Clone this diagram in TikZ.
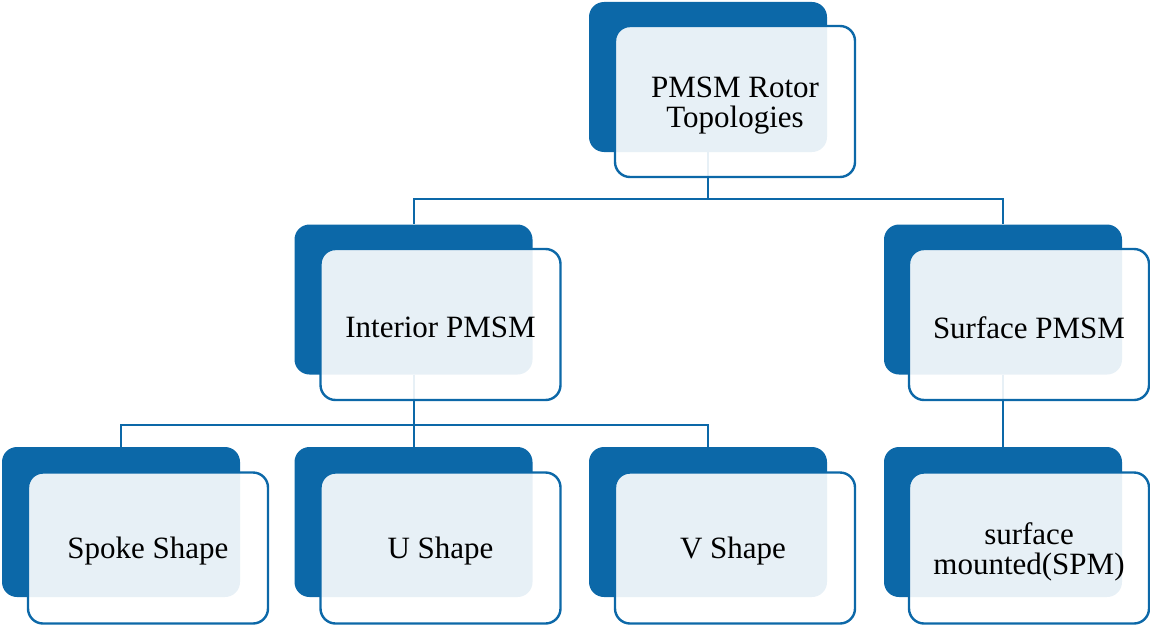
\documentclass[tikz,border=0pt]{standalone}
\usepackage{fontspec}
\setmainfont{Liberation Serif}
\definecolor{hblue}{RGB}{12,104,168}
\begin{document}
\begin{tikzpicture}[x=1pt,y=-1pt,
  back/.style={rectangle, rounded corners=15pt, fill=hblue, inner sep=0pt,
    minimum width=238pt, minimum height=150pt},
  front/.style={rectangle, rounded corners=15pt, draw=hblue, line width=2.4pt,
    fill=white, fill opacity=0.9, text opacity=1, inner sep=0pt,
    minimum width=240pt, minimum height=151pt},
  lbl/.style={inner sep=0pt, align=center, font=\fontsize{31}{30.5}\selectfont},
  link/.style={draw=hblue, line width=2pt}]
\useasboundingbox (0,0) rectangle (1150,626);

% back plates
\node[back] (rootB) at (708,77) {};
\node[back] (intB)  at (413.5,299.5) {};
\node[back] (surB)  at (1003,299.5) {};
\node[back] (spkB)  at (121,522) {};
\node[back] (uB)    at (413.5,522) {};
\node[back] (vB)    at (708,522) {};
\node[back] (spmB)  at (1003,522) {};

% hierarchy connectors
\draw[link] (rootB.south) -- ++(0,47) coordinate (j1) -| (intB.north);
\draw[link] (j1) -| (surB.north);
\draw[link] (intB.south) -- ++(0,50) coordinate (j2) -| (spkB.north);
\draw[link] (j2) -- (uB.north);
\draw[link] (j2) -| (vB.north);
\draw[link] (surB.south) -- (spmB.north);

% front cards
\node[front] (root) at (735,101.5) {};
\node[front] (int)  at (440.5,324.5) {};
\node[front] (sur)  at (1029,324.5) {};
\node[front] (spk)  at (148,548) {};
\node[front] (u)    at (440.5,548) {};
\node[front] (v)    at (735,548) {};
\node[front] (spm)  at (1029,548) {};

% labels
\node[lbl] (rootT) at ([yshift=-4pt]root.center) {PMSM Rotor\\Topologies};
\node[lbl] (intT)  at ([yshift=-3pt]int.center) {Interior PMSM};
\node[lbl] (surT)  at ([yshift=-3pt]sur.center) {Surface PMSM};
\node[lbl] (spkT)  at ([yshift=-3pt]spk.center) {Spoke Shape};
\node[lbl] (uT)    at ([yshift=-3pt]u.center) {U Shape};
\node[lbl] (vT)    at ([xshift=-2pt,yshift=-3pt]v.center) {V Shape};
\node[lbl] (spmT)  at ([yshift=-4pt]spm.center) {surface\\mounted(SPM)};
\end{tikzpicture}
\end{document}
